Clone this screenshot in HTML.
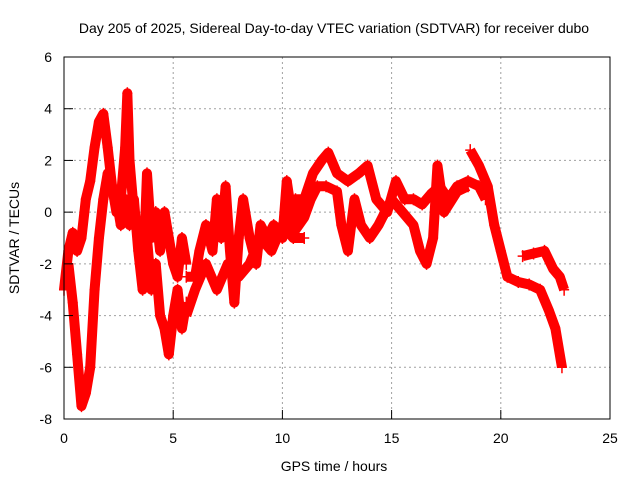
<!DOCTYPE html>
<html><head><meta charset="utf-8"><style>
body{margin:0;background:#fff}
svg{display:block;font-family:"Liberation Sans",sans-serif}
</style></head><body>
<svg id="chart" width="640" height="480">
<rect width="640" height="480" fill="#fff"/>
<text x="334" y="33" font-size="14" text-anchor="middle">Day 205 of 2025, Sidereal Day-to-day VTEC variation (SDTVAR) for receiver dubo</text>
<g id="grid"></g>
<g id="series"></g>
<rect x="64" y="57" width="546" height="362" fill="none" stroke="#000" stroke-width="1"/>
<g id="axes"></g>
<text x="334" y="471" font-size="14" text-anchor="middle">GPS time / hours</text>
<text x="0" y="0" font-size="14" text-anchor="middle" transform="translate(19,238) rotate(-90)">SDTVAR / TECUs</text>
</svg>
<script>
const xTicks=[0,5,10,15,20,25];
const yTicks=[6,4,2,0,-2,-4,-6,-8];
const sA_t=[0,0.2,0.4,0.6,0.8,1.0,1.2,1.4,1.6,1.8,2.0,2.2,2.4,2.6,2.8,2.9,3.0,3.2,3.4,3.6,3.8,4.0,4.2,4.4,4.6,4.8,5.0,5.2,5.4,5.6];
const sA_v=[-3,-1.5,-0.8,-1.5,-1,0.5,1.2,2.5,3.5,3.8,2.5,1,0,0.5,2.5,4.6,2,0,-1,-2,-1,-3,-2,-4,-4.5,-5.5,-4,-3,-4.5,-3.5];
const sB_t=[0.2,0.4,0.6,0.8,1.0,1.2,1.4,1.6,1.8,2.0,2.2,2.4,2.6,2.8,3.0,3.2,3.4,3.6,3.8,4.0,4.2,4.4,4.6,4.8,5.0,5.2,5.4,5.6];
const sB_v=[-2,-3.5,-5.5,-7.5,-7,-6,-3,-1,0.5,1.5,1,0.5,-0.5,0.5,-0.5,0.5,-1.5,-3,1.5,-1,0,-1.5,0,-1,-2,-2.5,-1,-2];
const sC_t=[5.6,6,6.2,6.5,6.8,7,7.2,7.4,7.6,7.8,8,8.2,8.5,8.8,9,9.3,9.6,10,10.2,10.5,11];
const sC_v=[-2.5,-2.5,-1.5,-0.5,-1.5,0.5,-1,1,-1.5,-3.5,-1,0.5,-1,-2,-0.5,-1,-0.5,-1,1.2,-0.5,0.5];
const sD_t=[5.6,6,6.5,7,7.5,8,8.5,9,9.5,10,10.5,11];
const sD_v=[-4,-3,-2,-3,-2,-2.5,-2,-1,-1.5,-0.5,-1,-1];
const sE_t=[10.2,10.6,11,11.4,11.8,12.1,12.5,13,13.5,13.9,14.3,14.8,15.2,15.6,16,16.4,16.8,17.2,17.6,18,18.5,19,19.3];
const sE_v=[0,0.5,0.5,1.5,2,2.3,1.5,1.2,1.5,1.8,0.5,0,1.2,0.5,0.5,0.3,0.7,1,0.5,1,1.2,1,0.5];
const sF_t=[10.5,11,11.3,11.6,12,12.5,12.7,13,13.3,13.6,14,14.4,15,15.5,16,16.3,16.6,16.9,17.1,17.4,18,18.5];
const sF_v=[-0.8,-0.2,0.5,1,1,0.8,-0.5,-1.5,0.5,-0.5,-1,-0.5,0.5,0,-0.5,-1.5,-2,-1,1.8,0,0.8,1.0];
const sG_t=[18.6,19,19.4,19.7,20,20.3,20.8,21.3,21.8,22.2,22.5,22.8];
const sG_v=[2.4,1.8,1,-0.5,-1.5,-2.5,-2.7,-2.8,-3,-3.8,-4.5,-6];
const sH_t=[21,21.5,22,22.4,22.7,22.9];
const sH_v=[-1.7,-1.6,-1.5,-2.2,-2.5,-3];
const NS="http://www.w3.org/2000/svg";
const X=t=>64+t*546/25, Y=v=>57+(6-v)*362/14;
function mk(tag,attrs,parent){const e=document.createElementNS(NS,tag);for(const k in attrs)e.setAttribute(k,attrs[k]);parent.appendChild(e);return e;}
const grid=document.getElementById('grid'),axes=document.getElementById('axes'),ser=document.getElementById('series');
xTicks.forEach(t=>{
 if(t>0&&t<25){const g=mk('line',{x1:X(t),x2:X(t),y1:57,y2:419,stroke:'#a0a0a0','stroke-dasharray':'2,3'},grid);
 
 }
 const l=mk('line',{x1:X(t),x2:X(t),y1:419,y2:410,stroke:'#000'},axes);
 
 
 const tx=mk('text',{x:X(t),y:443,'font-size':14,'text-anchor':'middle'},axes);tx.textContent=t;
 
 
});
yTicks.forEach(v=>{
 if(v<6&&v>-8){const g=mk('line',{x1:64,x2:610,y1:Y(v),y2:Y(v),stroke:'#a0a0a0','stroke-dasharray':'2,3'},grid);
 
 }
 const l=mk('line',{x1:64,x2:73,y1:Y(v),y2:Y(v),stroke:'#000'},axes);
 
 
 const tx=mk('text',{x:52,y:Y(v)+5,'font-size':14,'text-anchor':'end'},axes);tx.textContent=v;
 
 
});
[[sA_t,sA_v],[sB_t,sB_v],[sC_t,sC_v],[sD_t,sD_v],[sE_t,sE_v],[sF_t,sF_v],[sG_t,sG_v],[sH_t,sH_v]].forEach(([ts,vs],i)=>{
 const pts=ts.map((t,j)=>X(t)+','+Y(vs[j])).join(' ');
 const pl=mk('polyline',{points:pts,fill:'none',stroke:'#f00','stroke-width':10,'stroke-linejoin':'round'},ser);
 
 
 ts.forEach((t,j)=>{const x=X(t),y=Y(vs[j]);
  const p=mk('path',{d:`M${x-5},${y}h10M${x},${y-6}v12`,stroke:'#f00','stroke-width':1.5},ser);
  
  });
});
</script>
</body></html>
